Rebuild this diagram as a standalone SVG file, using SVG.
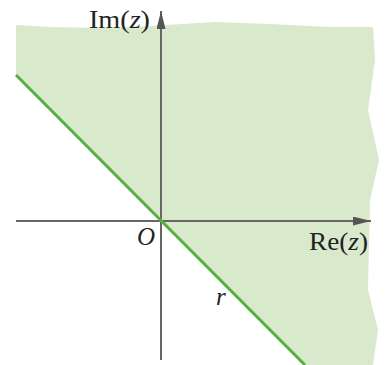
<svg xmlns="http://www.w3.org/2000/svg" width="386" height="365" viewBox="0 0 386 365">
<style>
.lbl{font-family:"Liberation Serif","DejaVu Serif",serif;font-size:25px;fill:#222}
.axis{stroke:#666;stroke-width:2;fill:none}
</style>
<defs>
<marker id="arrL" viewBox="0 0 20 10" refX="20" refY="5" markerWidth="19" markerHeight="9" markerUnits="userSpaceOnUse" orient="auto">
<path d="M0,0 L20,5 L0,10 Z" fill="#555"/>
</marker>
</defs>
<g id="region">
<path d="M16,25 L50,27 L100,28 L150,26 L215,22 L270,24 L330,27 L373,27 L375,60 L368,110 L379,160 L370,200 L368,290 L378,330 L373,365 L305,365 L16,75 Z" fill="#d9e9cc"/>
</g>
<g id="connectors">
<line id="im-axis" class="axis" x1="161" y1="360" x2="161" y2="11" marker-end="url(#arrL)"/>
<line id="re-axis" class="axis" x1="16" y1="221" x2="371" y2="221" marker-end="url(#arrL)"/>
<line id="ray" x1="16" y1="75" x2="305" y2="365" stroke="#55b040" stroke-width="3"/>
</g>
<g id="labels">
<text id="im-label" class="lbl" x="89" y="28" textLength="61" lengthAdjust="spacingAndGlyphs">Im(<tspan font-style="italic">z</tspan>)</text>
<text id="re-label" class="lbl" x="309" y="250" textLength="59" lengthAdjust="spacingAndGlyphs">Re(<tspan font-style="italic">z</tspan>)</text>
<text id="origin" class="lbl" x="137" y="245" font-style="italic">O</text>
<text id="r-label" class="lbl" x="216" y="305" font-style="italic">r</text>
</g>
</svg>
